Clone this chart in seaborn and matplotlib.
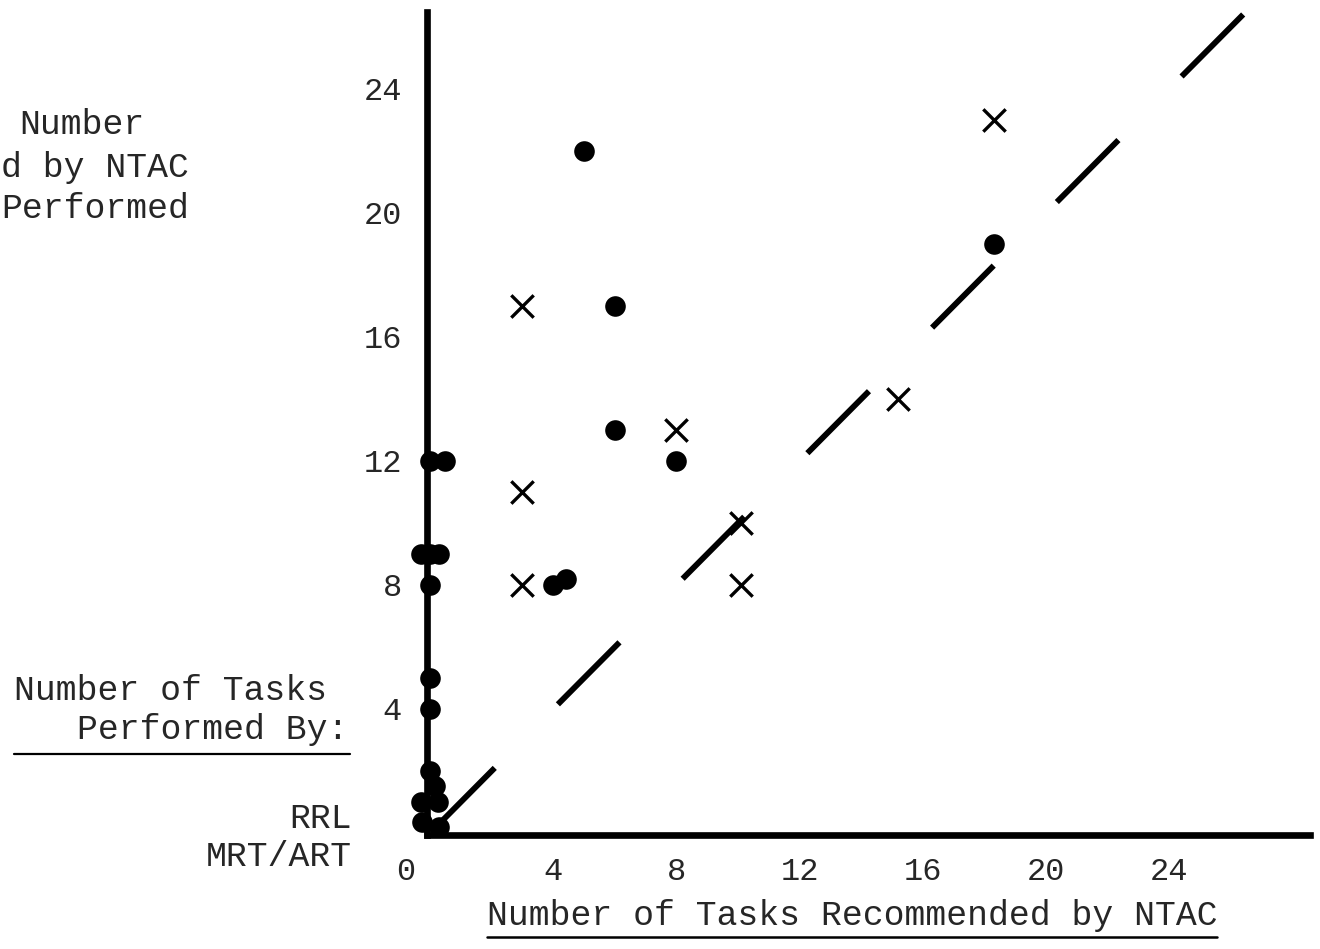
import numpy as np
import pandas as pd
import seaborn as sns
import matplotlib.pyplot as plt
from matplotlib import transforms
from matplotlib.lines import Line2D

# ---------- data ----------
rrl_x = [5, 6, 6, 8, 18.3, 4.0, 4.4, 0.5, 0, -0.3, 0, 0.3, 0, 0, 0, 0, 0.15, -0.3, 0.25, -0.25, 0.3]
rrl_y = [22, 17, 13, 12, 19, 8, 8.2, 12, 12, 9, 9, 9, 8, 5, 4, 2, 1.5, 1.0, 1.0, 0.35, 0.2]

mrt_x = [18.3, 3, 15.2, 8, 3, 3, 10.1, 10.1]
mrt_y = [23, 17, 14, 13, 11, 8, 10, 8]

diag = [0.1, 26.5]          # line of equality y = x
x_ticks = [0, 4, 8, 12, 16, 20, 24]
y_ticks = [4, 8, 12, 16, 20, 24]

df = pd.DataFrame({
    "recommended": rrl_x + mrt_x,
    "performed": rrl_y + mrt_y,
    "group": ["RRL"] * len(rrl_x) + ["MRT/ART"] * len(mrt_x),
})

# ---------- style ----------
sns.set_style("white")
plt.rcParams["font.family"] = ["Liberation Mono", "DejaVu Sans Mono"]
plt.rcParams["lines.scale_dashes"] = False
FS = 25

fig = plt.figure(figsize=(13.2, 9.49), dpi=100)
ax = fig.add_axes([427 / 1320, 1 - 835 / 949, 883 / 1320, 823 / 949])
ax.set_xlim(-0.1, 28.57)
ax.set_ylim(-0.065, 26.48)

# ---------- dashed diagonal ----------
line, = ax.plot(diag, diag, color="black", lw=4.2, solid_capstyle="butt")
p0 = ax.transData.transform((0, 0))
p1 = ax.transData.transform((1, 1))
unit_pt = np.hypot(*(p1 - p0)) * 72 / fig.dpi
line.set_dashes([2.0 * unit_pt, 2.05 * unit_pt])
line.set_dash_capstyle("butt")

# ---------- points ----------
sns.scatterplot(data=df[df.group == "RRL"], x="recommended", y="performed",
                marker="o", s=220, color="black", edgecolor="black",
                linewidth=0, ax=ax, legend=False, clip_on=False, zorder=5)
sns.scatterplot(data=df[df.group == "MRT/ART"], x="recommended", y="performed",
                marker="x", s=260, color="black", linewidth=2.4,
                ax=ax, legend=False, clip_on=False, zorder=5)

# ---------- axes ----------
sns.despine(ax=ax)
for side in ["left", "bottom"]:
    ax.spines[side].set_linewidth(4.8)
    ax.spines[side].set_color("black")
ax.set_xticks(x_ticks)
ax.set_yticks(y_ticks)
ax.set_xticklabels([str(t) for t in x_ticks])
ax.set_yticklabels([str(t) for t in y_ticks])
ax.tick_params(axis="x", length=0, pad=16, labelsize=23)
ax.tick_params(axis="y", length=0, pad=18, labelsize=23)
ax.set_xlabel("")
ax.set_ylabel("")

# shift the "0" label left like in the original
zero_lab = ax.get_xticklabels()[0]
zero_lab.set_transform(zero_lab.get_transform()
                       + transforms.ScaledTranslation(-24 / 100, 0, fig.dpi_scale_trans))

# ---------- texts ----------
def fx(px):
    return px / 1320

def fy(py):
    return 1 - py / 949

fig.text(fx(145), fy(125), "Number", ha="right", va="center", fontsize=FS)
fig.text(fx(1), fy(167), "d by NTAC", ha="left", va="center", fontsize=FS)
fig.text(fx(1), fy(208), "Performed", ha="left", va="center", fontsize=FS)

fig.text(fx(14), fy(690), "Number of Tasks", ha="left", va="center", fontsize=FS)
fig.text(fx(348), fy(730), "Performed By:", ha="right", va="center", fontsize=FS)
fig.add_artist(Line2D([fx(14), fx(350)], [fy(754), fy(754)], color="black", lw=1.6))
fig.text(fx(352), fy(818), "RRL", ha="right", va="center", fontsize=FS)
fig.text(fx(352), fy(857), "MRT/ART", ha="right", va="center", fontsize=FS)

xl = fig.text(fx(852), fy(915), "Number of Tasks Recommended by NTAC",
              ha="center", va="center", fontsize=FS)
fig.canvas.draw()
bb = xl.get_window_extent().transformed(fig.transFigure.inverted())
fig.add_artist(Line2D([bb.x0, bb.x1], [fy(937), fy(937)], color="black", lw=1.8))

fig.savefig("out.png", dpi=100)
